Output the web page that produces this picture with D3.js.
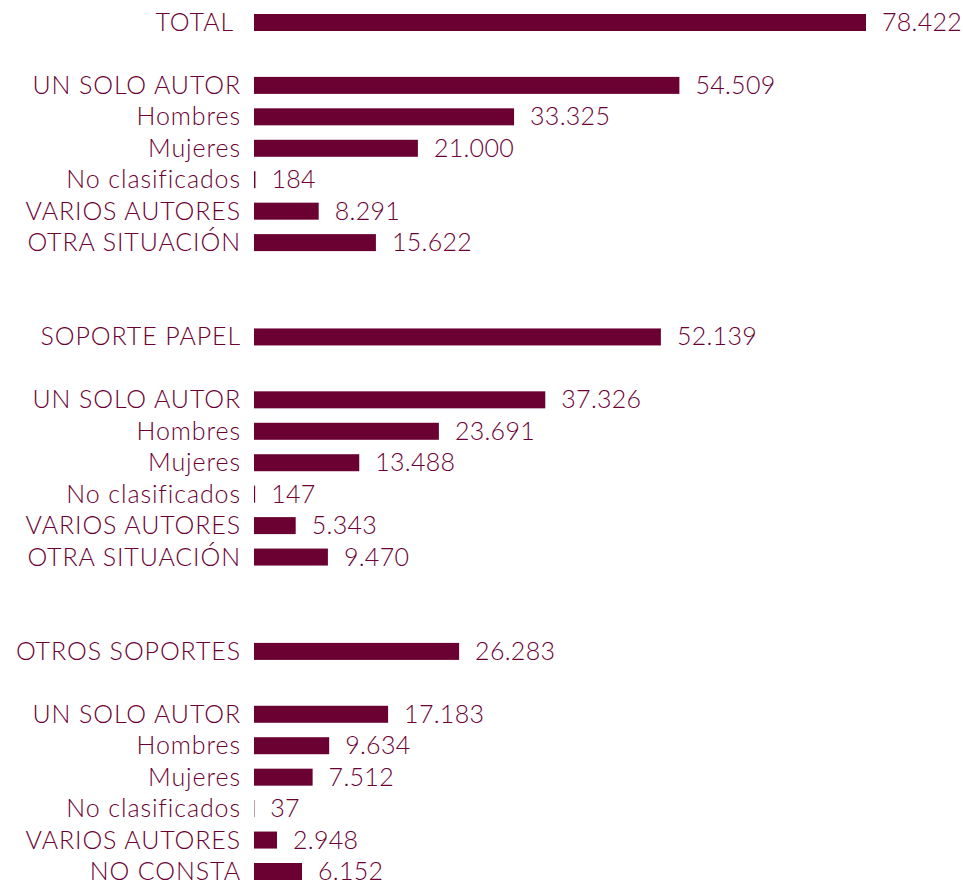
<!DOCTYPE html>
<html>
<head>
<meta charset="utf-8">
<script src="https://cdn.jsdelivr.net/npm/d3@7"></script>
<style>
  html, body { margin: 0; padding: 0; background: #fff; }
  svg text { font-family: Lato, "Open Sans", sans-serif; font-weight: 300; fill: #6b0033; }
</style>
</head>
<body>
<svg id="chart" width="963" height="884"></svg>
<script>
// one entry per row, empty label = spacer row
const labels = [
  "TOTAL", "",
  "UN SOLO AUTOR", "Hombres", "Mujeres", "No clasificados", "VARIOS AUTORES", "OTRA SITUACIÓN",
  "", "",
  "SOPORTE PAPEL", "",
  "UN SOLO AUTOR", "Hombres", "Mujeres", "No clasificados", "VARIOS AUTORES", "OTRA SITUACIÓN",
  "", "",
  "OTROS SOPORTES", "",
  "UN SOLO AUTOR", "Hombres", "Mujeres", "No clasificados", "VARIOS AUTORES", "NO CONSTA"
];
const values = [
  78422, null,
  54509, 33325, 21000, 184, 8291, 15622,
  null, null,
  52139, null,
  37326, 23691, 13488, 147, 5343, 9470,
  null, null,
  26283, null,
  17183, 9634, 7512, 37, 2948, 6152
];

const color = "#6b0033";
const svg = d3.select("#chart");

const rows = labels.map((l, i) => ({ i, label: l, value: values[i] }));
const data = rows.filter(d => d.value != null);

const y = d3.scalePoint().domain(rows.map(d => d.i)).range([22.5, 871.5]);
const x = d3.scaleLinear().domain([0, d3.max(values)]).range([254, 866]);
const barH = 17;

const es = d3.formatLocale({ decimal: ",", thousands: ".", grouping: [3], currency: ["", "€"] });
const fmt = es.format(",d");

svg.selectAll("rect.bar").data(data).join("rect")
  .attr("class", "bar")
  .attr("x", x(0))
  .attr("y", d => y(d.i) - barH / 2)
  .attr("width", d => Math.max(0.4, x(d.value) - x(0)))
  .attr("height", barH)
  .attr("fill", color);

svg.selectAll("text.cat").data(data).join("text")
  .attr("class", "cat")
  .attr("x", d => d.label === "TOTAL" ? 234 : 241)
  .attr("y", d => y(d.i))
  .attr("dy", "0.34em")
  .attr("text-anchor", "end")
  .style("font-size", "25px")
  .style("letter-spacing", "0.9px")
  .text(d => d.label);

svg.selectAll("text.val").data(data).join("text")
  .attr("class", "val")
  .attr("x", d => x(d.value) + 16)
  .attr("y", d => y(d.i))
  .attr("dy", "0.34em")
  .style("font-size", "25px")
  .style("letter-spacing", "0.3px")
  .text(d => fmt(d.value));
</script>
</body>
</html>
